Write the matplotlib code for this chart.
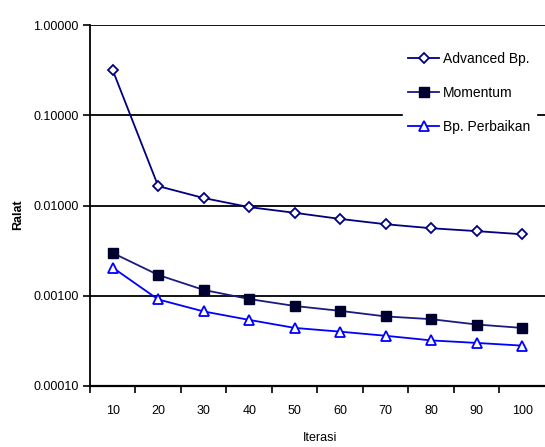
import matplotlib.pyplot as plt
from matplotlib.ticker import FixedLocator, FuncFormatter

plt.rcParams["font.family"] = ["Liberation Sans", "DejaVu Sans"]

iterasi = [10, 20, 30, 40, 50, 60, 70, 80, 90, 100]
advanced_bp = [0.317, 0.0164, 0.0121, 0.0096, 0.0083, 0.0071, 0.0062, 0.0056, 0.0052, 0.0048]
momentum = [0.00298, 0.0017, 0.00116, 0.00092, 0.00077, 0.00068, 0.00059, 0.00055, 0.00048, 0.00044]
bp_perbaikan = [0.00205, 0.00091, 0.00067, 0.00054, 0.00044, 0.0004, 0.00036, 0.00032, 0.0003, 0.00028]
y_ticks = [0.0001, 0.001, 0.01, 0.1, 1.0]

fig = plt.figure(figsize=(5.45, 4.47), dpi=100)
ax = fig.add_axes([0.165, 0.1365, 0.835, 0.8075])

pos = list(range(1, len(iterasi) + 1))
ax.plot(pos, advanced_bp, "-D", color="#000080", lw=1.3, ms=5,
        mfc="white", mec="#000080", mew=1.3, label="Advanced Bp.")
ax.plot(pos, momentum, "-s", color="#1a1a80", lw=1.3, ms=6.5,
        mfc="#000030", mec="#000030", label="Momentum")
ax.plot(pos, bp_perbaikan, "-^", color="#0000ff", lw=1.3, ms=6.5,
        mfc="white", mec="#0000ff", mew=1.3, label="Bp. Perbaikan")

ax.set_yscale("log")
ax.set_ylim(0.0001, 1.0)
ax.yaxis.set_major_locator(FixedLocator(y_ticks))
ax.yaxis.set_minor_locator(FixedLocator([]))
ax.yaxis.set_major_formatter(FuncFormatter(lambda v, p: f"{v:.5f}"))
ax.grid(axis="y", color="black", lw=1.3)
ax.set_axisbelow(True)

ax.set_xlim(0.5, len(iterasi) + 0.5)
ax.set_xticks(pos)
ax.set_xticklabels([str(i) for i in iterasi])
ax.set_xticks([p + 0.5 for p in range(len(iterasi))], minor=True)
ax.tick_params(axis="x", which="major", length=0, pad=14, labelsize=9)
ax.tick_params(axis="x", which="minor", length=5, width=1.2, direction="out")
ax.tick_params(axis="y", which="major", length=5, width=1.2, labelsize=9, pad=3)

for side in ["top", "right"]:
    ax.spines[side].set_visible(False)
ax.spines["left"].set_linewidth(1.3)
ax.spines["bottom"].set_linewidth(1.6)

fig.text(0.033, 0.52, "Ralat", rotation=90, fontsize=9, fontweight="bold",
         ha="center", va="center")
fig.text(0.587, 0.02, "Iterasi", fontsize=9, ha="center", va="center")

leg = ax.legend(loc="upper right", bbox_to_anchor=(0.995, 0.96), frameon=True,
                fancybox=False, edgecolor="white", framealpha=1, fontsize=10,
                handlelength=2.2, labelspacing=1.45, borderpad=0.4, handletextpad=0.3)

fig.savefig("out.png", dpi=100)
